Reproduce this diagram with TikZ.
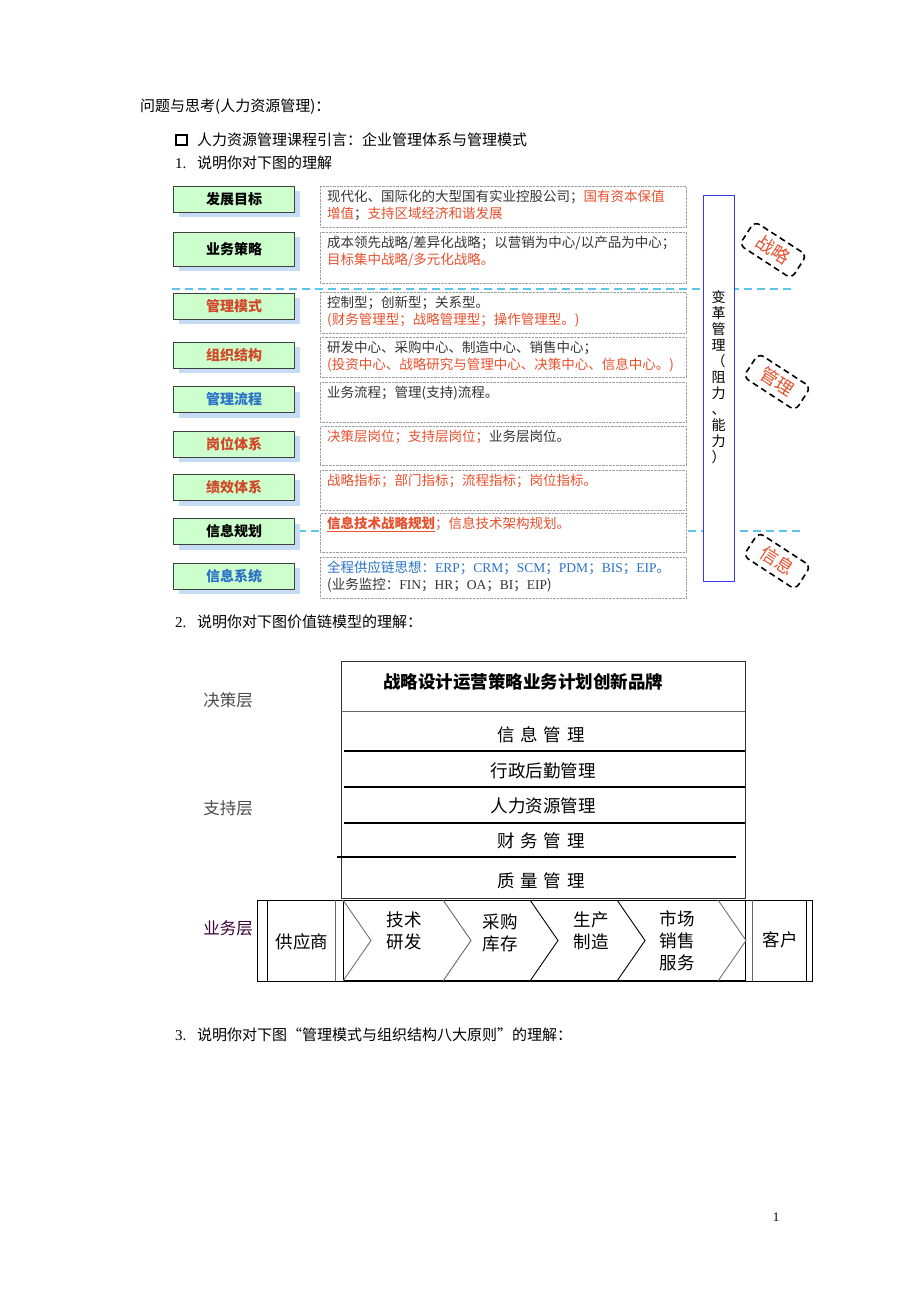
\documentclass[tikz,border=0pt]{standalone}
\usepackage{fontspec}
\setmainfont{Liberation Serif}
\newfontfamily\cjk{Noto Sans CJK SC}
\usetikzlibrary{positioning,shadows}
\definecolor{greenfill}{HTML}{CCFFCC}
\definecolor{shadowc}{HTML}{C4DCF4}
\definecolor{redtxt}{HTML}{E8502D}
\definecolor{bluetxt}{HTML}{2A72C8}
\definecolor{txtgray}{HTML}{333333}
\definecolor{dashc}{HTML}{5EC4EC}
\definecolor{vboxc}{HTML}{3838F0}
\newcommand{\sz}[2]{\fontsize{#1}{#2}\selectfont}
\newcommand{\rd}[1]{\textcolor{redtxt}{#1}}
\newcommand{\gap}{\hspace{6pt}}

\begin{document}
\begin{tikzpicture}[x=1pt,y=-1pt,
    every node/.style={font=\cjk},
    lbl/.style={draw=black!75, fill=greenfill, minimum width=121pt, minimum height=26pt, inner sep=0pt,
      font=\cjk\sz{14}{16}\bfseries,
      drop shadow={shadow xshift=5pt, shadow yshift=-5pt, fill=shadowc, opacity=1}},
    note/.style={draw=gray!75, densely dotted, fill=white, minimum width=366pt, anchor=north west, inner sep=0pt},
    notetxt/.style={anchor=north west, align=left, inner sep=0pt, text=txtgray, font=\cjk\sz{13.5}{17}},
    tag/.style={draw, dash pattern=on 6pt off 4pt, line width=1.6pt, rounded corners=6pt,
      minimum width=62pt, minimum height=28pt, text=redtxt, font=\cjk\sz{18}{18}, rotate=-33},
    body/.style={anchor=west, inner sep=0pt, font=\cjk\sz{15}{18}},
    layer/.style={inner sep=0pt, text=black!70, font=\cjk\sz{16.5}{18}},
    chain/.style={inner sep=0pt, align=center, font=\cjk\sz{17.5}{22}},
    sep/.style={dash pattern=on 8pt off 5pt, line width=1.1pt, dashc}]

  \fill[white] (0,0) rectangle (920,1302);
  \useasboundingbox (0,0) rectangle (920,1302);

  % headings
  \node[body] (title) at (140,107) {问题与思考(人力资源管理)：};
  \node[draw, line width=2.2pt, minimum size=10.5pt, inner sep=0pt] (bul) at (181.5,140) {};
  \node[body] (intro) at (197,140) {人力资源管理课程引言：企业管理体系与管理模式};
  \node[body] (q1) at (175,163) {\makebox[22pt][l]{\rmfamily 1.}说明你对下图的理解};

  % dashed separators
  \draw[sep] (172,289) -- (792,289);
  \draw[sep] (298,531) -- (800,531);

  % left labels
  \node[lbl] (goal)  at (234,199) {发展目标};
  \node[lbl, minimum height=34pt] (strat) at (234,249) {业务策略};
  \node[lbl, text=redtxt!90!black] (mode) at (234,306) {管理模式};
  \node[lbl, text=redtxt!90!black] (org)  at (234,355) {组织结构};
  \node[lbl, text=bluetxt] (flow) at (234,399.5) {管理流程};
  \node[lbl, text=redtxt!90!black] (post) at (234,444) {岗位体系};
  \node[lbl, text=redtxt!90!black] (perf) at (234,487.5) {绩效体系};
  \node[lbl] (plan) at (234,531.5) {信息规划};
  \node[lbl, text=bluetxt] (sys)  at (234,576) {信息系统};

  % right notes
  \node[note, minimum height=41pt] (n1) at (320,186) {};
  \node[note, minimum height=51pt] (n2) at (320,232) {};
  \node[note, minimum height=41pt] (n3) at (320,292) {};
  \node[note, minimum height=40pt] (n4) at (320,337) {};
  \node[note, minimum height=40pt] (n5) at (320,382) {};
  \node[note, minimum height=39pt] (n6) at (320,426) {};
  \node[note, minimum height=40pt] (n7) at (320,470) {};
  \node[note, minimum height=39pt] (n8) at (320,513) {};
  \node[note, minimum height=41pt] (n9) at (320,557) {};

  \node[notetxt] (t1) at ([xshift=7pt,yshift=-4pt]n1.north west)
    {现代化、国际化的大型国有实业控股公司；\rd{国有资本保值}\\\rd{增值}；\rd{支持区域经济和谐发展}};
  \node[notetxt] (t2) at ([xshift=7pt,yshift=-4pt]n2.north west)
    {成本领先战略/差异化战略；以营销为中心/以产品为中心；\\\rd{目标集中战略/多元化战略。}};
  \node[notetxt] (t3) at ([xshift=7pt,yshift=-4pt]n3.north west)
    {控制型；创新型；关系型。\\\rd{(财务管理型；战略管理型；操作管理型。)}};
  \node[notetxt] (t4) at ([xshift=7pt,yshift=-4pt]n4.north west)
    {研发中心、采购中心、制造中心、销售中心；\\\rd{(投资中心、战略研究与管理中心、决策中心、信息中心。)}};
  \node[notetxt] (t5) at ([xshift=7pt,yshift=-4pt]n5.north west) {业务流程；管理(支持)流程。};
  \node[notetxt] (t6) at ([xshift=7pt,yshift=-4pt]n6.north west) {\rd{决策层岗位；支持层岗位；}业务层岗位。};
  \node[notetxt, text=redtxt] (t7) at ([xshift=7pt,yshift=-4pt]n7.north west) {战略指标；部门指标；流程指标；岗位指标。};
  \node[notetxt, text=redtxt] (t8) at ([xshift=7pt,yshift=-4pt]n8.north west)
    {\underline{\bfseries 信息技术战略规划}；信息技术架构规划。};
  \node[notetxt] (t9) at ([xshift=7pt,yshift=-4pt]n9.north west)
    {\textcolor{bluetxt}{全程供应链思想：{\rmfamily ERP}；{\rmfamily CRM}；{\rmfamily SCM}；{\rmfamily PDM}；{\rmfamily BIS}；{\rmfamily EIP}。}\\
     (业务监控：{\rmfamily FIN}；{\rmfamily HR}；{\rmfamily OA}；{\rmfamily BI}；{\rmfamily EIP})};

  % change management column
  \node[draw=vboxc, fill=white, minimum width=31pt, minimum height=386pt, inner sep=0pt] (change) at (718.5,388) {};
  \node[align=center, inner sep=0pt, font=\cjk\sz{14}{16}] (changetxt) at (718.5,377)
    {变\\革\\管\\理\\（\\阻\\力\\、\\能\\力\\）};

  % tags
  \node[tag] (tagA) at (773,250) {战略};
  \node[tag] (tagB) at (777,382) {管理};
  \node[tag] (tagC) at (777,561) {信息};

  % value chain
  \node[body] (q2) at (175,622) {\makebox[22pt][l]{\rmfamily 2.}说明你对下图价值链模型的理解：};

  \draw[black!80, line width=0.8pt] (341,661) rectangle (745,898);
  \draw[black!60, line width=0.8pt] (341,711) -- (745,711);
  \draw[line width=1.1pt] (344,751) -- (745,751);
  \draw[line width=1.1pt] (344,787) -- (745,787);
  \draw[line width=1.1pt] (344,823) -- (745,823);
  \draw[line width=1.8pt] (337,857) -- (736,857);

  \node[chain, font=\cjk\sz{17.5}{22}\bfseries] (top) at (523,682) {战略设计运营策略业务计划创新品牌};
  \node[chain] (info) at (541,735) {信\gap 息\gap 管\gap 理};
  \node[chain] (admin) at (543,771) {行政后勤管理};
  \node[chain] (hr) at (543,806) {人力资源管理};
  \node[chain] (fin) at (541,841) {财\gap 务\gap 管\gap 理};
  \node[chain] (qual) at (541,881) {质\gap 量\gap 管\gap 理};

  \node[layer] (decide) at (228,700) {决策层};
  \node[layer] (support) at (228,808) {支持层};
  \node[layer, text=black!55!violet] (biz) at (228,928) {业务层};

  % business row
  \draw[line width=0.9pt] (257,900) rectangle (812,981);
  \draw[line width=0.8pt] (267,900) -- (267,981);
  \draw[black!60] (335,900) -- (335,981);
  \draw[line width=0.8pt] (343,900) -- (343,981);
  \draw[line width=0.8pt] (745,900) -- (745,981);
  \draw[black!60] (752,900) -- (752,981);
  \draw[line width=0.8pt] (806,900) -- (806,981);
  \draw[line width=1.5pt] (343,981) -- (745,981);
  \foreach \a/\c in {343/black!55, 443/black!60, 530/black, 617/black, 718/black!55}
    \draw[\c, line width=0.9pt] (\a,900) -- (\a+28,940.5) -- (\a,981);

  \node[chain] (supp) at (302,942) {供应商};
  \node[chain] (rd) at (404,931) {技术\\研发};
  \node[chain] (buy) at (500,933) {采购\\库存};
  \node[chain] (make) at (591,931) {生产\\制造};
  \node[chain] (sell) at (677,941) {市场\\销售\\服务};
  \node[chain] (cust) at (780,940) {客户};

  \node[body] (q3) at (175,1035) {\makebox[22pt][l]{\rmfamily 3.}说明你对下图“管理模式与组织结构八大原则”的理解：};
  \node[inner sep=0pt, font=\rmfamily\sz{13}{15}] (page) at (776,1217) {1};
\end{tikzpicture}
\end{document}
